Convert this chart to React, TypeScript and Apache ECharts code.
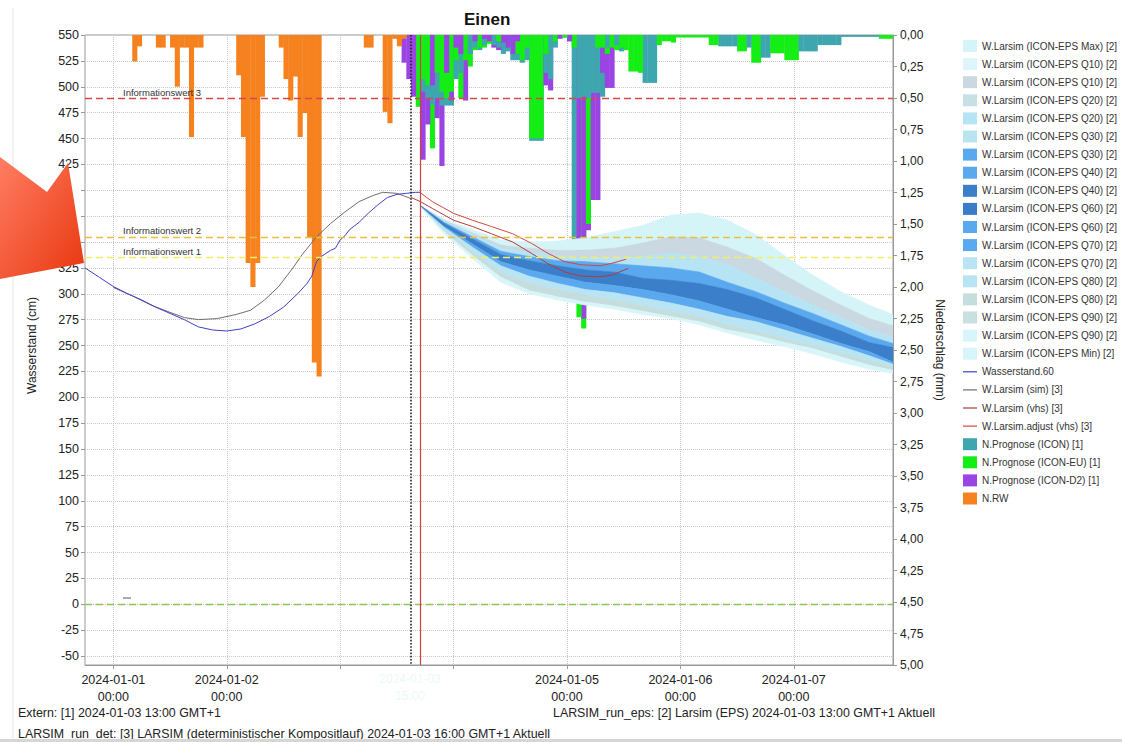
import React, { useEffect, useRef } from 'react';
import * as echarts from 'echarts';

const FONT = '"Liberation Sans", Arial, Helvetica, sans-serif';

// x axis: hours since 2024-01-01 00:00
const X_MIN = -6;
const X_MAX = 165;
const xTickHours = [0, 24, 48, 72, 96, 120, 144];
const xLabelHours = [0, 24, 96, 120, 144];
const xLabelTexts = ['2024-01-01\n00:00', '2024-01-02\n00:00', '2024-01-05\n00:00', '2024-01-06\n00:00', '2024-01-07\n00:00'];
const hiddenLeftLabels = [400, 375, 350];

// water level (cm)
const obsHours = [-6, -3, 0, 3, 6, 9, 12, 15, 18, 21, 24, 27, 30, 33, 36, 39, 41, 42, 43, 44, 45, 46, 47, 48, 49, 50, 52, 54, 56, 58, 60, 62, 64, 65];
const obsLevel = [325, 316, 307, 300, 294, 287, 281, 275, 268, 265, 264, 266, 271, 278, 287, 300, 310, 317, 331, 336, 339, 342, 344, 352, 356, 362, 369, 378, 386, 393, 396, 397, 398, 398];

const simHours = [0, 4, 8, 12, 15, 18, 22, 26, 29, 32, 35, 38, 40, 43, 46, 49, 52, 55, 57, 60, 63];
const simLevel = [306, 298, 289, 282, 277, 275, 276, 280, 284, 294, 307, 325, 338, 355, 368, 379, 389, 395, 398, 397, 392];

const vhsHours = [63, 65, 67.5, 72, 76, 80, 84.5, 88.5, 92, 95.5, 99, 103, 105.5, 109];
const vhsLevel = [393, 389, 382.5, 371, 365, 358, 350, 339, 329, 321, 317, 316.5, 318, 324.5];

const adjHours = [65, 67.5, 72, 76, 80, 84.5, 88.5, 92, 95.5, 99, 103, 105.5, 108.5];
const adjLevel = [397.6, 389, 377.7, 371, 365, 358, 348.7, 339, 331, 328, 327, 329.4, 333.3];

// ensemble quantiles (cm)
const epsHours = [65, 70, 76, 82, 88, 94, 100, 106, 112, 118, 124, 130, 136, 142, 148, 154, 160, 165];
const epsMax = [385, 372, 362, 352, 350, 351, 354, 360, 366, 376, 378, 371, 357, 337, 318, 302, 289, 280];
const epsQ10 = [385, 371, 359, 347, 344, 342, 342, 344, 349, 355, 354, 345, 334, 318, 303, 289, 276, 269];
const epsQ20 = [385, 370, 357, 344, 340, 337, 334, 334, 336, 339, 336, 328, 315, 302, 289, 277, 265, 258];
const epsQ30 = [385, 369, 355, 341, 336, 332, 331, 329, 327, 325, 321, 311, 302, 291, 281, 270, 259, 252];
const epsQ40 = [385, 368, 353, 338, 332, 327, 323, 321, 315, 313, 310, 304, 296, 285, 274, 264, 253, 248];
const epsQ60 = [384, 365, 348, 331, 323, 317, 311, 308, 304, 299, 293, 285, 277, 270, 261, 252, 244, 234];
const epsQ70 = [384, 364, 345, 327, 317, 310, 304, 301, 296, 291, 285, 278, 273, 265, 257, 249, 240, 232];
const epsQ80 = [384, 362, 341, 321, 310, 304, 298, 294, 289, 283, 278, 270, 264, 257, 250, 243, 235, 229];
const epsQ90 = [384, 360, 337, 316, 303, 297, 292, 288, 283, 278, 273, 265, 260, 253, 247, 239, 231, 226];
const epsMin = [383, 358, 334, 311, 300, 294, 289, 285, 280, 276, 270, 262, 255, 249, 242, 234, 227, 223];

// precipitation (mm), hourly
const rwStartHour = 0;
const rwValues = [
  0, 0, 0, 0, 0.21, 0.09, 0, 0, 0, 0.1,
  0.1, 0, 0.1, 0.41, 0.1, 0.1, 0.81, 0.1, 0.1, 0,
  0, 0, 0, 0, 0, 0, 0.32, 0.81, 1.81, 2.0,
  1.81, 0.49, 0, 0, 0, 0.1, 0.35, 0.52, 0.33, 0.81,
  0.62, 1.61, 2.6, 2.71, 0, 0, 0, 0, 0, 0,
  0, 0, 0, 0.1, 0.1, 0, 0, 0.61, 0.7, 0.03,
  0.09, 0.03,
];

const fcStartHour = 61;
const iconValues = [
  0, 0, 0, 0, 0.45, 0.5, 0.55, 0.5, 0.56, 0.56,
  0.56, 0.35, 0.3, 0, 0.15, 0.1, 0.12, 0.08, 0, 0.08,
  0.1, 0.15, 0.13, 0.2, 0.2, 0.22, 0.2, 0.84, 0.84, 0.84,
  0.3, 0.35, 0.1, 0, 0.02, 0, 1.63, 0.5, 0.49, 0.5,
  0.46, 0.46, 0.49, 0.1, 0, 0.08, 0.13, 0, 0, 0,
  0, 0.38, 0.38, 0.38, 0, 0, 0, 0, 0, 0,
  0, 0, 0, 0, 0, 0, 0, 0.09, 0.09, 0.09,
  0.09, 0, 0, 0.1, 0, 0, 0.18, 0.18, 0, 0,
  0, 0, 0, 0, 0.13, 0.13, 0.13, 0.13, 0.08, 0.08,
  0.08, 0.08, 0.08, 0.015, 0.015, 0.015, 0.015, 0.015, 0.015, 0.015,
  0.015, 0, 0, 0,
];
const euValues = [
  0, 0, 0, 0.57, 0.35, 0.4, 0.9, 0.3, 0.45, 0.5,
  0.45, 0.2, 0.5, 0.2, 0.25, 0.12, 0.1, 0.1, 0.07, 0,
  0.05, 0, 0, 0, 0.15, 0.2, 0.1, 0.82, 0.82, 0.82,
  0.15, 0, 0.05, 0, 0.02, 0.05, 0.1, 2.24, 2.33, 1.5,
  0, 0.1, 0.1, 0.15, 0.1, 0.12, 0.1, 0.12, 0.29, 0.29,
  0.3, 0, 0, 0, 0.08, 0.05, 0.05, 0.06, 0.02, 0.02,
  0.02, 0.02, 0.02, 0.02, 0.02, 0.08, 0.08, 0, 0, 0,
  0, 0.13, 0.13, 0, 0.22, 0.22, 0, 0, 0.145, 0.145,
  0.145, 0.2, 0.2, 0.2, 0, 0, 0, 0, 0, 0,
  0, 0, 0, 0, 0, 0, 0, 0, 0, 0,
  0, 0.03, 0.03, 0.03,
];
const d2Values = [
  0.22, 0.35, 0.49, 0, 0.99, 0.71, 0.4, 0.66, 1.04, 0.3,
  0.52, 0.1, 0.15, 0.52, 0, 0.05, 0, 0.03, 0.05, 0.1,
  0.12, 0.06, 0.1, 0.15, 0.05, 0, 0, 0, 0, 0,
  0.4, 0.44, 0, 0.03, 0, 0.05, 0, 1.63, 2.25, 1.55,
  1.31, 1.31, 0.3, 0.42, 0.42,
];

// thresholds (cm)
const thresholdValues = [489, 355, 335, 0];
const thresholdLabels = ['Informationswert 3', 'Informationswert 2', 'Informationswert 1', ''];
const thresholdColors = ['#d84848', '#e8c040', '#f2ee6a', '#8cc656'];

// vertical markers (hours)
const forecastStartHour = 63;
const nowHour = 65;

// legend
const epsLegendNames = [
  'W.Larsim (ICON-EPS Max) [2]', 'W.Larsim (ICON-EPS Q10) [2]', 'W.Larsim (ICON-EPS Q10) [2] ',
  'W.Larsim (ICON-EPS Q20) [2]', 'W.Larsim (ICON-EPS Q20) [2] ', 'W.Larsim (ICON-EPS Q30) [2]',
  'W.Larsim (ICON-EPS Q30) [2] ', 'W.Larsim (ICON-EPS Q40) [2]', 'W.Larsim (ICON-EPS Q40) [2] ',
  'W.Larsim (ICON-EPS Q60) [2]', 'W.Larsim (ICON-EPS Q60) [2] ', 'W.Larsim (ICON-EPS Q70) [2]',
  'W.Larsim (ICON-EPS Q70) [2] ', 'W.Larsim (ICON-EPS Q80) [2]', 'W.Larsim (ICON-EPS Q80) [2] ',
  'W.Larsim (ICON-EPS Q90) [2]', 'W.Larsim (ICON-EPS Q90) [2] ', 'W.Larsim (ICON-EPS Min) [2]',
];
const epsLegendColors = [
  '#d4f4f8', '#dcf6fa', '#cad9e1', '#c6e0e4', '#b6e4f4', '#b8e4f0', '#5aa9ef', '#5aa9ef', '#3b7ec9',
  '#3b7cc8', '#5aa9ef', '#5aa9ef', '#b8e4f4', '#b8e4f4', '#c6dddd', '#c8e0e0', '#d8f6fa', '#d8f6fa',
];

const LINE_ICON = 'path://M0,0M0,5.4H14V6.6H0ZM14,12';

const pairs = (xs: number[], ys: number[]) => xs.map((x, i) => [x, ys[i]]);
const hourly = (start: number, vals: number[]) => vals.map((v, i) => [start + i, v]);

function barSeries(name: string, color: string, start: number, vals: number[], zBase: number) {
  return {
    name, type: 'custom', xAxisIndex: 1, yAxisIndex: 1, z: 1, clip: true, silent: true,
    itemStyle: { color },
    encode: { x: 0, y: 1 },
    data: hourly(start, vals),
    renderItem: (_p: any, api: any) => {
      const h = api.value(0);
      const v = api.value(1);
      if (!(v > 0)) return null;
      const p0 = api.coord([h, 0]);
      const p1 = api.coord([h + 1, v]);
      return {
        type: 'rect',
        shape: { x: p0[0], y: p0[1], width: p1[0] - p0[0] + 0.4, height: p1[1] - p0[1] },
        style: { fill: color },
        z2: zBase - Math.round(v * 100),
      };
    },
  };
}

function bandSeries(name: string, color: string, upper: number[], lower: number[]) {
  return {
    name, type: 'custom', xAxisIndex: 0, yAxisIndex: 0, z: 2, clip: true, silent: true,
    itemStyle: { color },
    encode: { x: 0, y: 1 },
    data: [[epsHours[0], lower[0]]],
    renderItem: (_p: any, api: any) => {
      const top = epsHours.map((h, i) => api.coord([h, upper[i]]));
      const bot = epsHours.map((h, i) => api.coord([h, lower[i]])).reverse();
      return {
        type: 'polygon',
        shape: { points: top.concat(bot) },
        style: { fill: color, stroke: color, lineWidth: 0.6 },
      };
    },
  };
}

function lineSeries(name: string, color: string, xs: number[], ys: number[], extra: any = {}) {
  return {
    name, type: 'line', xAxisIndex: 0, yAxisIndex: 0, z: 3, silent: true,
    data: pairs(xs, ys), symbol: 'none', showSymbol: false,
    lineStyle: { color, width: 1 }, itemStyle: { color },
    ...extra,
  };
}

function buildOption() {
  const bandMap: Record<number, [number[], number[]]> = {
    0: [epsMax, epsQ10], 2: [epsQ10, epsQ20], 4: [epsQ20, epsQ30], 6: [epsQ30, epsQ40],
    8: [epsQ40, epsQ60], 10: [epsQ60, epsQ70], 12: [epsQ70, epsQ80], 14: [epsQ80, epsQ90], 16: [epsQ90, epsMin],
  };
  const epsSeries = epsLegendNames.map((name, i) => {
    const b = bandMap[i];
    if (b) return bandSeries(name, epsLegendColors[i], b[0], b[1]);
    return { name, type: 'line', xAxisIndex: 0, yAxisIndex: 0, data: [], itemStyle: { color: epsLegendColors[i] }, lineStyle: { color: epsLegendColors[i] } };
  });

  const lineNames = ['Wasserstand.60', 'W.Larsim (sim) [3]', 'W.Larsim (vhs) [3]', 'W.Larsim.adjust (vhs) [3]'];
  const lineColors = ['#4040c4', '#6e6e6e', '#b23c3c', '#d2483c'];
  const barNames = ['N.Prognose (ICON) [1]', 'N.Prognose (ICON-EU) [1]', 'N.Prognose (ICON-D2) [1]', 'N.RW'];
  const barColors = ['#3ea6ae', '#14ee14', '#9b44e4', '#f5821f'];

  const markLineData = thresholdValues.map((v, i) => ({
    yAxis: v,
    lineStyle: { color: thresholdColors[i], type: [7, 4], width: 1.3 },
    label: {
      show: !!thresholdLabels[i], formatter: thresholdLabels[i], position: 'insideStartTop',
      fontSize: 9.5, color: '#333', fontFamily: FONT, padding: [0, 0, 0, 37], distance: 1,
    },
  }));

  const legendData = [
    ...epsLegendNames.map((name, i) => ({ name, icon: 'rect', itemStyle: { color: epsLegendColors[i] } })),
    ...lineNames.map((name, i) => ({ name, icon: LINE_ICON, itemStyle: { color: lineColors[i] } })),
    ...barNames.map((name, i) => ({ name, icon: 'rect', itemStyle: { color: barColors[i] } })),
  ];

  return {
    animation: false,
    backgroundColor: '#ffffff',
    textStyle: { fontFamily: FONT },
    title: {
      text: 'Einen', left: 459, top: 6,
      textStyle: { fontSize: 17, fontWeight: 'bold', color: '#111', fontFamily: FONT },
    },
    legend: {
      orient: 'vertical', left: 963, top: 40, padding: 0, itemWidth: 14, itemHeight: 12, itemGap: 6.1,
      selectedMode: false, formatter: (n: string) => n.trim(),
      textStyle: { fontSize: 10, color: '#333', fontFamily: FONT, lineHeight: 12 },
      data: legendData,
    },
    grid: [
      { left: 85, top: 35, width: 808, height: 621, outerBoundsMode: 'none' },
      { left: 85, top: 35, width: 808, height: 630, show: true, borderColor: '#9a9a9a', borderWidth: 1, backgroundColor: 'transparent', outerBoundsMode: 'none' },
    ],
    xAxis: [
      { gridIndex: 0, type: 'value', min: X_MIN, max: X_MAX, show: false, axisLine: { onZero: false } },
      {
        gridIndex: 1, type: 'value', min: X_MIN, max: X_MAX,
        axisLine: { show: true, onZero: false, lineStyle: { color: '#999' } },
        axisTick: { show: true, customValues: xTickHours, length: 4, lineStyle: { color: '#999' } },
        axisLabel: {
          show: true, customValues: xLabelHours, margin: 6, fontSize: 12.5, color: '#222', lineHeight: 17,
          formatter: (v: number) => { const k = xLabelHours.indexOf(v); return k >= 0 ? xLabelTexts[k] : ''; },
        },
        splitLine: { show: true, lineStyle: { type: 'dotted', color: '#c8c8c8' } },
      },
    ],
    yAxis: [
      {
        gridIndex: 0, type: 'value', min: -50, max: 550, interval: 25, position: 'left',
        name: 'Wasserstand (cm)', nameLocation: 'middle', nameGap: 47, nameRotate: 90,
        nameTextStyle: { fontSize: 12, color: '#222', fontFamily: FONT },
        axisLine: { show: false, onZero: false },
        axisTick: { show: true, length: 4, lineStyle: { color: '#999' } },
        axisLabel: {
          fontSize: 12.5, color: '#222', margin: 6,
          formatter: (v: number) => (hiddenLeftLabels.indexOf(v) >= 0 ? '' : String(v)),
        },
        splitLine: { show: true, lineStyle: { type: 'dotted', color: '#c8c8c8' } },
      },
      {
        gridIndex: 1, type: 'value', min: 0, max: 5, interval: 0.25, inverse: true, position: 'right',
        name: 'Niederschlag (mm)', nameLocation: 'middle', nameGap: 41, nameRotate: -90,
        nameTextStyle: { fontSize: 12, color: '#222', fontFamily: FONT },
        axisLine: { show: true, onZero: false, lineStyle: { color: '#999' } },
        axisTick: { show: true, length: 4, lineStyle: { color: '#999' } },
        axisLabel: { fontSize: 12, color: '#222', margin: 7, formatter: (v: number) => v.toFixed(2).replace('.', ',') },
        splitLine: { show: false },
      },
    ],
    series: [
      barSeries(barNames[0], barColors[0], fcStartHour, iconValues, 1000),
      barSeries(barNames[1], barColors[1], fcStartHour, euValues, 1000),
      barSeries(barNames[2], barColors[2], fcStartHour, d2Values, 1000),
      barSeries(barNames[3], barColors[3], rwStartHour, rwValues, 3000),
      ...epsSeries,
      lineSeries(lineNames[1], lineColors[1], simHours, simLevel),
      lineSeries(lineNames[0], lineColors[0], obsHours, obsLevel, {
        markLine: { silent: true, symbol: ['none', 'none'], z: 5, data: markLineData },
      }),
      lineSeries(lineNames[2], lineColors[2], vhsHours, vhsLevel),
      lineSeries(lineNames[3], lineColors[3], adjHours, adjLevel),
      {
        name: '_markers', type: 'line', xAxisIndex: 1, yAxisIndex: 1, z: 6, silent: true,
        data: [[X_MIN, 0]], symbol: 'none', lineStyle: { opacity: 0 },
        markLine: {
          silent: true, symbol: ['none', 'none'], label: { show: false },
          data: [
            { xAxis: forecastStartHour, lineStyle: { color: '#222', type: 'dotted', width: 1.6 } },
            { xAxis: nowHour, lineStyle: { color: '#d04040', type: 'solid', width: 1.2 } },
          ],
        },
      },
    ],
    graphic: [
      { type: 'line', shape: { x1: 13, y1: 8, x2: 13, y2: 742 }, style: { stroke: '#e6e6e6', lineWidth: 1 }, z: 0 },
      { type: 'line', shape: { x1: 123, y1: 598, x2: 131, y2: 598 }, style: { stroke: '#555', lineWidth: 1 }, z: 50 },
      { type: 'text', x: 410, y: 670, style: { text: '2024-01-03\n15:00', fill: '#edf8fa', font: `12px ${FONT}`, textAlign: 'center', lineHeight: 17 }, z: 50 },
      { type: 'text', x: 18, y: 707, style: { text: 'Extern: [1] 2024-01-03 13:00 GMT+1', fill: '#222', font: `12.4px ${FONT}` }, z: 50 },
      { type: 'text', x: 553, y: 707, style: { text: 'LARSIM_run_eps: [2] Larsim (EPS) 2024-01-03 13:00 GMT+1 Aktuell', fill: '#222', font: `12.4px ${FONT}` }, z: 50 },
      { type: 'text', x: 18, y: 728, style: { text: 'LARSIM_run_det: [3] LARSIM (deterministischer Kompositlauf) 2024-01-03 16:00 GMT+1 Aktuell', fill: '#222', font: `12.4px ${FONT}` }, z: 50 },
      { type: 'rect', shape: { x: 0, y: 739, width: 1122, height: 3 }, style: { fill: '#d6d6d6' }, z: 50 },
      {
        type: 'polygon', z: 100,
        shape: { points: [[0, 157], [47, 192], [68, 163], [84, 263], [0, 279]] },
        style: {
          fill: new echarts.graphic.LinearGradient(0, 0, 1, 1, [
            { offset: 0, color: '#ff7d62' },
            { offset: 1, color: '#e8370f' },
          ]),
        },
      },
    ],
  };
}

export default function App() {
  const ref = useRef<HTMLDivElement>(null);
  useEffect(() => {
    if (!ref.current) return;
    const chart = echarts.init(ref.current, null, { renderer: 'svg' });
    chart.setOption(buildOption() as any);
    return () => chart.dispose();
  }, []);
  return (
    <div
      ref={ref}
      style={{ position: 'fixed', left: 0, top: 0, width: 1122, height: 742, background: '#fff' }}
    />
  );
}
